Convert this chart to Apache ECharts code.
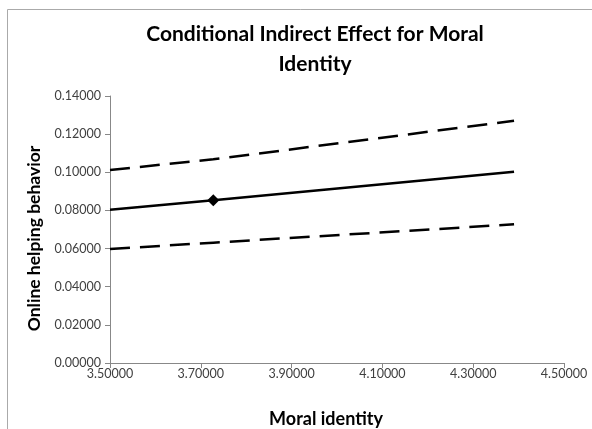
<!DOCTYPE html>
<html>
<head>
<meta charset="utf-8">
<script src="https://cdn.jsdelivr.net/npm/echarts@6/dist/echarts.min.js"></script>
<style>html,body{margin:0;padding:0;background:#fff}#c{width:592px;height:429px}</style>
</head>
<body>
<div id="c"></div>
<script>
var xValues = [3.5, 3.7275, 4.39];
var effect = [0.0803, 0.0853, 0.1003];
var upperCI = [0.1012, 0.1068, 0.1270];
var lowerCI = [0.0598, 0.0631, 0.0727];
var markerIndex = 1;
var xTicks = [3.5, 3.7, 3.9, 4.1, 4.3, 4.5];
var yTicks = [0, 0.02, 0.04, 0.06, 0.08, 0.1, 0.12, 0.14];

function pairs(ys) { return xValues.map(function (x, i) { return [x, ys[i]]; }); }

var chart = echarts.init(document.getElementById('c'));
var font = 'Lato, "Open Sans", sans-serif';
chart.setOption({
  animation: false,
  title: {
    text: 'Conditional Indirect Effect for Moral\nIdentity',
    left: 310, top: 14, textAlign: 'center',
    textStyle: { fontFamily: font, fontSize: 21, fontWeight: 'bold', color: '#000', lineHeight: 30 }
  },
  graphic: [{
    type: 'rect', shape: { x: 7.5, y: 9.5, width: 700, height: 600 },
    style: { fill: 'none', stroke: '#aaa', lineWidth: 1 }, silent: true
  }],
  grid: { left: 110, right: 28, top: 96, bottom: 66, containLabel: false, outerBoundsMode: 'none' },
  xAxis: {
    type: 'value', min: 3.5, max: 4.5, interval: 0.2,
    name: 'Moral identity', nameLocation: 'middle', nameGap: 47,
    nameTextStyle: { fontFamily: font, fontSize: 18, fontWeight: 'bold', color: '#000', padding: [0, 22, 0, 0] },
    axisLine: { lineStyle: { color: '#888' } },
    axisTick: { show: true, length: 5, lineStyle: { color: '#888' } },
    axisLabel: { fontFamily: font, fontSize: 12.5, color: '#404040', margin: 4,
      formatter: function (v) { return v.toFixed(5); } },
    splitLine: { show: false }
  },
  yAxis: {
    type: 'value', min: 0, max: 0.14, interval: 0.02,
    name: 'Online helping behavior', nameLocation: 'middle', nameGap: 67,
    nameTextStyle: { fontFamily: font, fontSize: 17.5, fontWeight: 'bold', color: '#000', padding: [0, 18, 0, 0] },
    axisLine: { show: true, lineStyle: { color: '#888' } },
    axisTick: { show: true, length: 5, lineStyle: { color: '#888' } },
    axisLabel: { fontFamily: font, fontSize: 12.5, color: '#404040', margin: 9,
      formatter: function (v) { return v.toFixed(5); } },
    splitLine: { show: false }
  },
  series: [
    { type: 'line', data: pairs(upperCI), showSymbol: false, symbol: 'none',
      lineStyle: { color: '#000', width: 2.5, type: [20, 10] } },
    { type: 'line', data: pairs(lowerCI), showSymbol: false, symbol: 'none',
      lineStyle: { color: '#000', width: 2.5, type: [20, 10] } },
    { type: 'line', data: pairs(effect), symbol: 'diamond',
      symbolSize: function (v, p) { return p.dataIndex === markerIndex ? 12 : 0; },
      itemStyle: { color: '#000' },
      lineStyle: { color: '#000', width: 2.5 } }
  ]
});
</script>
</body>
</html>
